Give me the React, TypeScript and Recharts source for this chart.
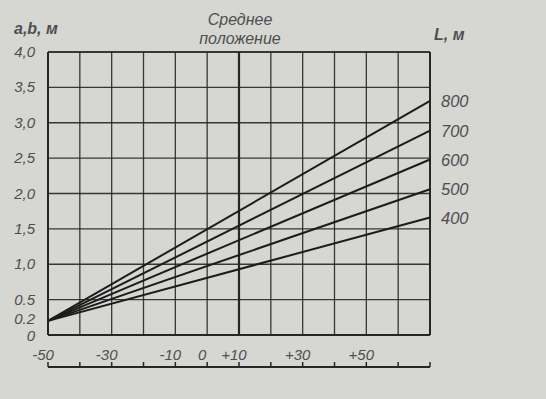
import { LineChart, Line, XAxis, YAxis, CartesianGrid, ReferenceLine } from "recharts";

// temperature, °C (start: -50, end: +70)
const X_POINTS = [-50, 70];
const X_MIN = -50;
const X_MAX = 70;
const X_TICKS = [-50, -40, -30, -20, -10, 0, 10, 20, 30, 40, 50, 60, 70];
const X_LABELED = [-50, -30, -10, 0, 10, 30, 50];

const Y_MAX = 4;
const Y_GRID = [0.5, 1, 1.5, 2, 2.5, 3, 3.5, 4];
const Y_TICKS = [0, 0.2, 0.5, 1, 1.5, 2, 2.5, 3, 3.5, 4];
const Y_LABELS = ["0", "0.2", "0.5", "1,0", "1,5", "2,0", "2,5", "3,0", "3,5", "4,0"];

const SPANS = ["400", "500", "600", "700", "800"];
const L400 = [0.2, 1.66];
const L500 = [0.2, 2.06];
const L600 = [0.2, 2.48];
const L700 = [0.2, 2.89];
const L800 = [0.2, 3.31];
const SERIES = [L400, L500, L600, L700, L800];

const data = X_POINTS.map((x, i) => {
  const row: Record<string, number> = { x };
  SPANS.forEach((s, k) => {
    row["L" + s] = SERIES[k][i];
  });
  return row;
});

const INK = "#262626";
const TEXT = "#4f4f4f";
const FONT = "'Liberation Sans', Arial, sans-serif";

function fmtX(v: number) {
  if (!X_LABELED.includes(v)) return "";
  return v > 0 ? `+${v}` : `${v}`;
}

function YTick(props: any) {
  const { x, y, payload } = props;
  const i = Y_TICKS.indexOf(payload.value);
  const label = i >= 0 ? Y_LABELS[i] : "";
  // "0" sits a little under the base line, "0.2" a little above its level
  const shift = payload.value === 0 ? 6 : payload.value === 0.2 ? 3 : 5;
  return (
    <text
      x={x}
      y={y}
      dy={shift}
      textAnchor="end"
      fill={TEXT}
      fontSize={15}
      fontStyle="italic"
      fontFamily={FONT}
    >
      {label}
    </text>
  );
}

function endLabel(name: string) {
  return (props: any) => {
    const { x, y, index } = props;
    if (index !== X_POINTS.length - 1) return <g />;
    return (
      <text
        x={x + 11}
        y={y}
        dy={6}
        fill={TEXT}
        fontSize={16.5}
        fontStyle="italic"
        fontFamily={FONT}
      >
        {name}
      </text>
    );
  };
}

// small upward ticks on the lower ruler line
function RulerTick(props: any) {
  const { x, y } = props;
  return <line x1={x} x2={x} y1={y} y2={y - 5} stroke={INK} strokeWidth={1.5} />;
}

const textStyle: React.CSSProperties = {
  position: "absolute",
  color: TEXT,
  fontFamily: FONT,
  fontStyle: "italic",
  whiteSpace: "nowrap",
};

export default function App() {
  return (
    <div
      style={{
        position: "absolute",
        left: 0,
        top: 0,
        width: 546,
        height: 399,
        background: "#d6d6d3",
        fontFamily: FONT,
      }}
    >
      <div style={{ ...textStyle, left: 14, top: 20, fontSize: 16, fontWeight: "bold" }}>
        a,b, м
      </div>
      <div style={{ ...textStyle, left: 434, top: 26, fontSize: 16, fontWeight: "bold" }}>
        L, м
      </div>
      <div style={{ ...textStyle, left: 170, top: 10, width: 140, textAlign: "center", fontSize: 16, lineHeight: "19px" }}>
        Среднее
        <br />
        положение
      </div>
      <LineChart
        width={546}
        height={399}
        data={data}
        margin={{ top: 52, right: 116, left: 0, bottom: 0 }}
      >
        <CartesianGrid
          horizontal={false}
          stroke={INK}
          strokeWidth={1.3}
          strokeOpacity={0.9}
        />
        {Y_GRID.map((v) => (
          <ReferenceLine
            key={v}
            segment={[
              { x: X_MIN, y: v },
              { x: X_MAX, y: v },
            ]}
            stroke={INK}
            strokeWidth={v === Y_MAX ? 2 : 1.3}
            strokeOpacity={0.9}
            ifOverflow="visible"
          />
        ))}
        <XAxis
          dataKey="x"
          type="number"
          domain={[X_MIN, X_MAX]}
          ticks={X_TICKS}
          interval={0}
          tickFormatter={fmtX}
          axisLine={{ stroke: INK, strokeWidth: 2 }}
          tickLine={false}
          tickMargin={8}
          height={32}
          tick={{ fill: TEXT, fontSize: 15, fontStyle: "italic", fontFamily: FONT, dx: -5 }}
        />
        <XAxis
          xAxisId="ruler"
          dataKey="x"
          type="number"
          domain={[X_MIN, X_MAX]}
          ticks={X_TICKS}
          interval={0}
          tickSize={0}
          tickMargin={0}
          tickLine={false}
          height={32}
          axisLine={{ stroke: INK, strokeWidth: 2 }}
          tick={<RulerTick />}
        />
        <YAxis
          type="number"
          domain={[0, Y_MAX]}
          ticks={Y_TICKS}
          interval={0}
          width={48}
          axisLine={{ stroke: INK, strokeWidth: 2 }}
          tickLine={false}
          tickMargin={7}
          tick={<YTick />}
        />
        <ReferenceLine x={10} stroke={INK} strokeWidth={2.2} />
        <ReferenceLine x={70} stroke={INK} strokeWidth={2} />
        {SPANS.map((s) => (
          <Line
            key={s}
            dataKey={"L" + s}
            type="linear"
            stroke="#1c1c1c"
            strokeWidth={2}
            dot={false}
            label={endLabel(s)}
            isAnimationActive={false}
          />
        ))}
      </LineChart>
    </div>
  );
}
